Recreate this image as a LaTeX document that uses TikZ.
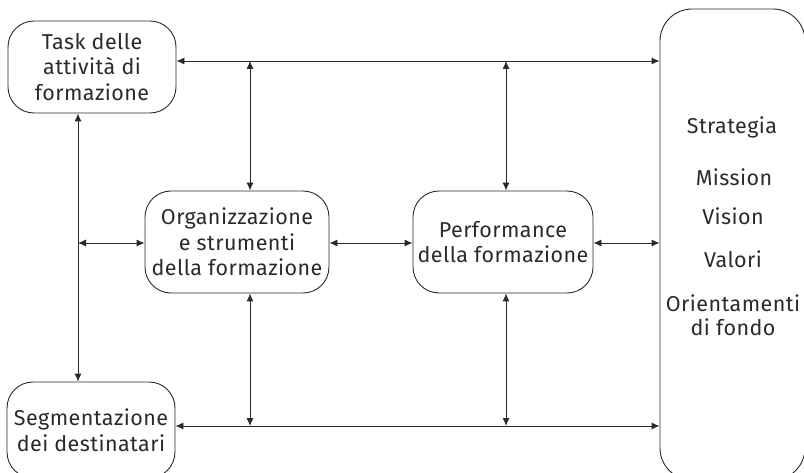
\documentclass[tikz,border=0pt]{standalone}
\usepackage{fontspec}
\setmainfont[LetterSpace=2]{Fira Sans}
\usetikzlibrary{arrows.meta}
\definecolor{ink}{HTML}{2A2A2A}
\begin{document}
\begin{tikzpicture}[x=1pt,y=-1pt,
  box/.style={draw=ink, line width=0.9pt, rounded corners=26pt, align=center,
    text=ink, inner sep=0pt, font=\fontsize{21.5}{25.5}\selectfont},
  link/.style={draw=ink, line width=0.9pt, {Latex[length=8pt,width=7pt]}-{Latex[length=8pt,width=7pt]}}]
  \useasboundingbox (0,0) rectangle (804,473);
  \clip (0,0) rectangle (804,473);
  % boxes
  \node[box, minimum width=168pt, minimum height=92pt] (task) at (92,67)
    {Task delle\\attività di\\formazione};
  \node[box, minimum width=168pt, minimum height=96pt] (seg) at (91,430)
    {Segmentazione\\dei destinatari};
  \node[box, minimum width=184pt, minimum height=102pt] (org) at (237,242)
    {Organizzazione\\e strumenti\\della formazione};
  \node[box, minimum width=180pt, minimum height=102pt] (perf) at (503,242)
    {Performance\\della formazione};
  \node[box, rounded corners=32pt, minimum width=145pt, minimum height=471pt] (core) at (732.5,244.5) {};
  % labels inside the strategy box
  \begin{scope}[every node/.style={text=ink, font=\fontsize{21.5}{24}\selectfont, align=center}]
    \node (s1) at (732,127) {Strategia};
    \node (s2) at (734,177) {Mission};
    \node (s3) at (733,216) {Vision};
    \node (s4) at (733,259) {Valori};
    \node (s5) at (733,315) {Orientamenti\\di fondo};
  \end{scope}
  % rails
  \coordinate (ytop) at (0,61);
  \coordinate (ybot) at (0,426);
  \coordinate (xl) at (78,0);
  \coordinate (xa) at (250,0);
  \coordinate (xb) at (506,0);
  \coordinate (ymid) at (0,243);
  % connectors
  \draw[link] (task.east |- ytop) -- (core.west |- ytop);
  \draw[link] (seg.east |- ybot) -- (core.west |- ybot);
  \draw[link] (xl |- task.south) -- (xl |- seg.north);
  \draw[link] (xl |- ymid) -- (org.west |- ymid);
  \draw[link] (org.east |- ymid) -- (perf.west |- ymid);
  \draw[link] (perf.east |- ymid) -- (core.west |- ymid);
  \draw[link] (xa |- ytop) -- (xa |- org.north);
  \draw[link] (xb |- ytop) -- (xb |- perf.north);
  \draw[link] (xa |- org.south) -- (xa |- ybot);
  \draw[link] (xb |- perf.south) -- (xb |- ybot);
\end{tikzpicture}
\end{document}
